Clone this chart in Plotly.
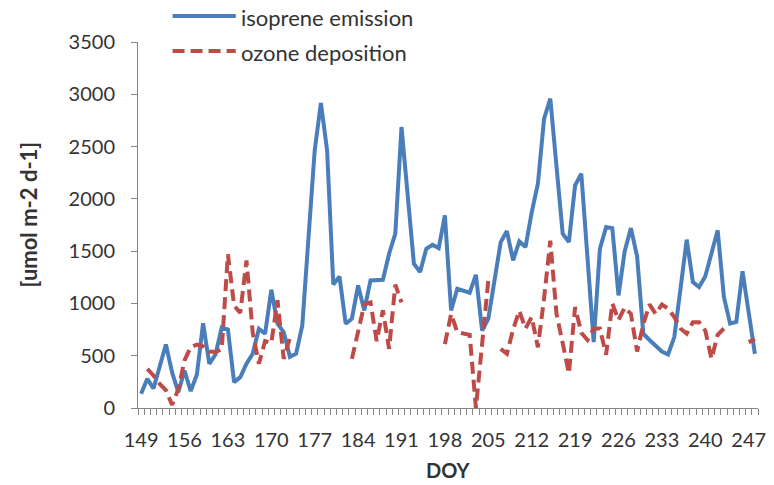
import plotly.graph_objects as go

# Day of year, one value per day
days = list(range(149, 249))

isoprene = [
    136, 279, 186, 396, 607, 340, 151, 359, 161, 321,      # 149-158
    811, 423, 512, 770, 750, 247, 295, 423, 519, 758,      # 159-168
    710, 1131, 806, 726, 490, 520, 789, 1630, 2464, 2917,  # 169-178
    2464, 1182, 1258, 805, 854, 1172, 933, 1220, 1222, 1226,  # 179-188
    1475, 1667, 2687, 2030, 1380, 1300, 1523, 1561, 1529, 1842,  # 189-198
    933, 1140, 1120, 1102, 1274, 741, 853, 1220, 1587, 1692,  # 199-208
    1411, 1593, 1539, 1870, 2145, 2767, 2958, 2310, 1667, 1587,  # 209-218
    2129, 2241, 1435, 630, 1523, 1730, 1720, 1077, 1500, 1720,  # 219-228
    1450, 710, 650, 590, 540, 512, 678, 1140, 1610, 1204,  # 229-238
    1157, 1260, 1480, 1699, 1062, 807, 823, 1308, 913, 518,  # 239-248
]

N = None
ozone = [
    N, 375, 311, 230, 170, 30, 180, 455, 582, 607,          # 149-158
    590, 540, 535, 560, 1470, 980, 910, 1411, 720, 423,     # 159-168
    640, 620, 1030, 470, 670, N, N, N, N, N,                # 169-178
    N, N, N, N, 470, 740, 990, 1010, 640, 935,              # 179-188
    565, 1180, 1010, N, N, N, N, N, N, 610,                 # 189-198
    900, 725, 710, 700, 0, 600, 1220, N, 566, 519,          # 199-208
    750, 930, 760, 870, 580, 1050, 1600, 900, 620, 330,     # 209-218
    965, 720, 650, 760, 760, 510, 1000, 840, 960, 900,      # 219-228
    540, 800, 990, 900, 990, 950, 870, 760, 710, 820,       # 229-238
    820, 740, 470, 700, 760, N, N, N, 630, 660,             # 239-248
]

label_days = list(range(149, 249, 7))
y_ticks = list(range(0, 3501, 500))

BLUE = "#4A7EBB"
RED = "#BE4B48"
AXIS = "#868686"
TEXT = "#333333"
FONT = "Lato"

W, H = 774, 485
L, R, T, B = 138, 8, 42, 77


def px_x(px):
    return (px - L) / (W - L - R)


def px_y(py):
    return (H - B - py) / (H - T - B)


fig = go.Figure()
fig.add_trace(go.Scatter(
    x=days, y=isoprene, mode="lines", name="isoprene emission",
    line=dict(color=BLUE, width=4), showlegend=False,
))
fig.add_trace(go.Scatter(
    x=days, y=ozone, mode="lines", name="ozone deposition",
    line=dict(color=RED, width=4, dash="12px,6px"), showlegend=False,
    connectgaps=False,
))

# category boundaries carry the small tick marks
boundaries = [d - 0.5 for d in days] + [days[-1] + 0.5]

fig.update_xaxes(
    range=[days[0] - 0.5, days[-1] + 0.5],
    tickmode="array", tickvals=label_days,
    ticktext=[str(d) for d in label_days],
    ticks="", showgrid=False, zeroline=False,
    showline=True, linecolor=AXIS, linewidth=1,
    tickfont=dict(family=FONT, size=20, color=TEXT),
    ticklabelstandoff=14,
    minor=dict(tickmode="array", tickvals=boundaries, ticks="outside",
               ticklen=6, tickcolor=AXIS, tickwidth=1, showgrid=False),
)
fig.update_yaxes(
    range=[0, 3500], tickmode="array", tickvals=y_ticks,
    ticks="outside", ticklen=6, tickcolor=AXIS, tickwidth=1,
    showgrid=False, zeroline=False,
    showline=True, linecolor=AXIS, linewidth=1,
    tickfont=dict(family=FONT, size=20, color=TEXT),
    ticklabelstandoff=12,
)

# legend drawn above the plot
legend_items = [("isoprene emission", BLUE, "solid", 16),
                ("ozone deposition", RED, "12px,6px", 51)]
shapes = []
annotations = []
for text, color, dash, py in legend_items:
    shapes.append(dict(type="line", xref="paper", yref="paper",
                       x0=px_x(173), x1=px_x(237), y0=px_y(py), y1=px_y(py),
                       line=dict(color=color, width=4, dash=dash)))
    annotations.append(dict(text=text, xref="paper", yref="paper",
                            x=px_x(240), y=px_y(py + 1), xanchor="left",
                            yanchor="middle", showarrow=False,
                            font=dict(family=FONT, size=22, color=TEXT)))

annotations.append(dict(text="<b>[umol m-2 d-1]</b>", xref="paper", yref="paper",
                        x=px_x(27), y=px_y(214), textangle=-90,
                        xanchor="center", yanchor="middle", showarrow=False,
                        font=dict(family=FONT, size=22, color=TEXT)))
annotations.append(dict(text="<b>DOY</b>", xref="paper", yref="paper",
                        x=px_x(452), y=px_y(470), xanchor="center",
                        yanchor="middle", showarrow=False,
                        font=dict(family=FONT, size=20, color=TEXT)))

fig.update_layout(
    width=W, height=H,
    margin=dict(l=L, r=R, t=T, b=B),
    paper_bgcolor="white", plot_bgcolor="white",
    shapes=shapes, annotations=annotations,
)

fig.write_html("out.html")
